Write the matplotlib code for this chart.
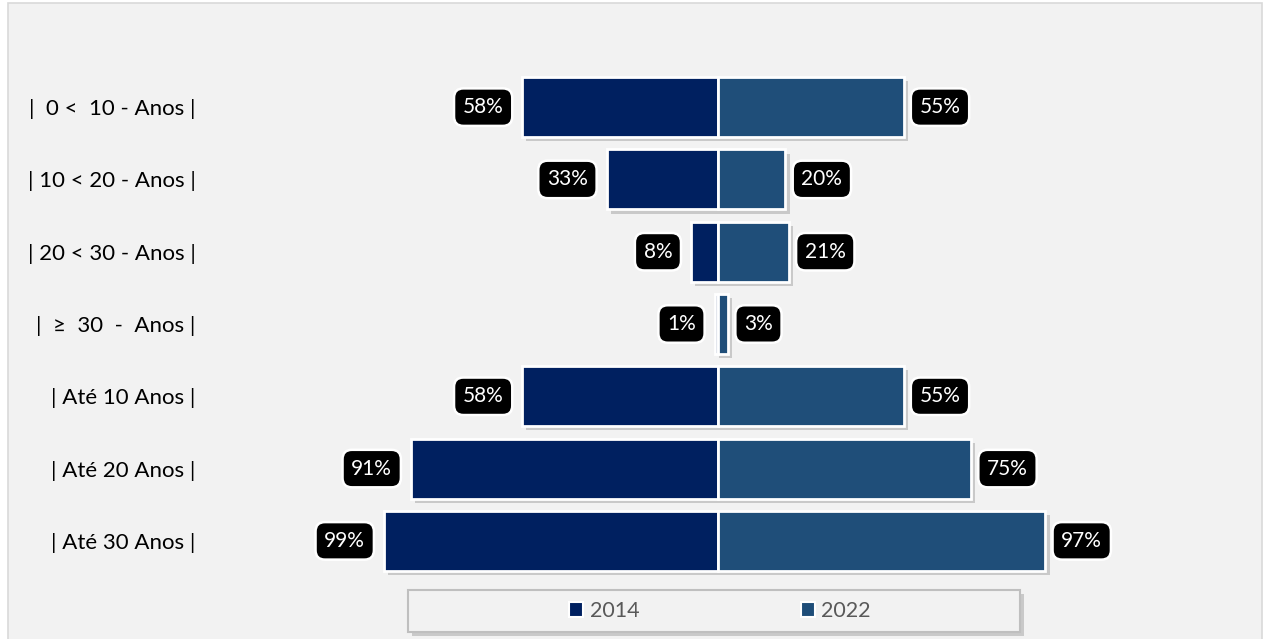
import matplotlib
matplotlib.use("Agg")
import matplotlib.pyplot as plt
from matplotlib.patches import Rectangle, Patch
import matplotlib.patheffects as pe

plt.rcParams['font.family'] = ['Lato', 'DejaVu Sans']

categories = [
    "|  0 <  10 - Anos |",
    "| 10 < 20 - Anos |",
    "| 20 < 30 - Anos |",
    "|  \u2265  30  -  Anos |",
    "| Até 10 Anos |",
    "| Até 20 Anos |",
    "| Até 30 Anos |",
]
values_2014 = [58, 33, 8, 1, 58, 91, 99]
values_2022 = [55, 20, 21, 3, 55, 75, 97]
series_labels = ["2014", "2022"]
color_2014 = "#002060"
color_2022 = "#1F4E79"

W, H = 1264, 639
fig = plt.figure(figsize=(W / 100, H / 100), dpi=100)
fig.patch.set_facecolor("white")

# chart area panel
fig.patches.append(Rectangle((8 / W, -0.05), (1262 - 8) / W, 1.05 - 3 / H,
                             transform=fig.transFigure, facecolor="#F2F2F2",
                             edgecolor="#D9D9D9", linewidth=1.2, zorder=-10))

ax = fig.add_axes([200 / W, 1 - 577 / H, 1036 / W, 506 / H])
ax.set_zorder(2)
ax.set_facecolor("none")
ax.set_xlim(-153.5, 153.5)
ax.set_ylim(6.5, -0.5)

shadow = [pe.SimplePatchShadow(offset=(3, -3), shadow_rgbFace="#7f7f7f", alpha=0.35),
          pe.Normal()]

ypos = list(range(len(categories)))
bars_l = ax.barh(ypos, [-v for v in values_2014], height=0.83, color=color_2014,
                 edgecolor="white", linewidth=2, label=series_labels[0], zorder=2)
bars_r = ax.barh(ypos, values_2022, height=0.83, color=color_2022,
                 edgecolor="white", linewidth=2, label=series_labels[1], zorder=2)
for b in list(bars_l) + list(bars_r):
    b.set_path_effects(shadow)

box = dict(boxstyle="round,pad=0.42,rounding_size=0.45", facecolor="black",
           edgecolor="white", linewidth=1.8)
for y, v in zip(ypos, values_2014):
    ax.annotate(f"{v}%", xy=(-v, y), xytext=(-13.5, 0), textcoords="offset points",
                ha="right", va="center", color="white", fontsize=15, bbox=box, zorder=4)
for y, v in zip(ypos, values_2022):
    ax.annotate(f"{v}%", xy=(v, y), xytext=(11.5, 0), textcoords="offset points",
                ha="left", va="center", color="white", fontsize=15, bbox=box, zorder=4)

ax.set_yticks(ypos)
ax.set_yticklabels(categories, fontsize=16, color="black")
ax.tick_params(axis="y", length=0, pad=3)
ax.set_xticks([])
for s in ax.spines.values():
    s.set_visible(False)

# legend panel
fig.patches.append(Rectangle((408 / W, 1 - 632 / H), 612 / W, 42 / H,
                             transform=fig.transFigure, facecolor="#F2F2F2",
                             edgecolor="#BFBFBF", linewidth=1.5, zorder=-5,
                             path_effects=[pe.SimplePatchShadow(offset=(3, -3),
                                                                shadow_rgbFace="#7f7f7f",
                                                                alpha=0.35),
                                           pe.Normal()]))
handles = [Patch(facecolor=color_2014, edgecolor="white", linewidth=1.5),
           Patch(facecolor=color_2022, edgecolor="white", linewidth=1.5)]
leg = fig.legend(handles, series_labels, loc="center",
                 bbox_to_anchor=(720 / W, 1 - 611 / H), ncol=2, frameon=False,
                 fontsize=15.5, handlelength=0.65, handleheight=0.65, handletextpad=0.3,
                 columnspacing=7.5, labelcolor="#595959")

fig.savefig("out.png", dpi=100, facecolor=fig.get_facecolor())
